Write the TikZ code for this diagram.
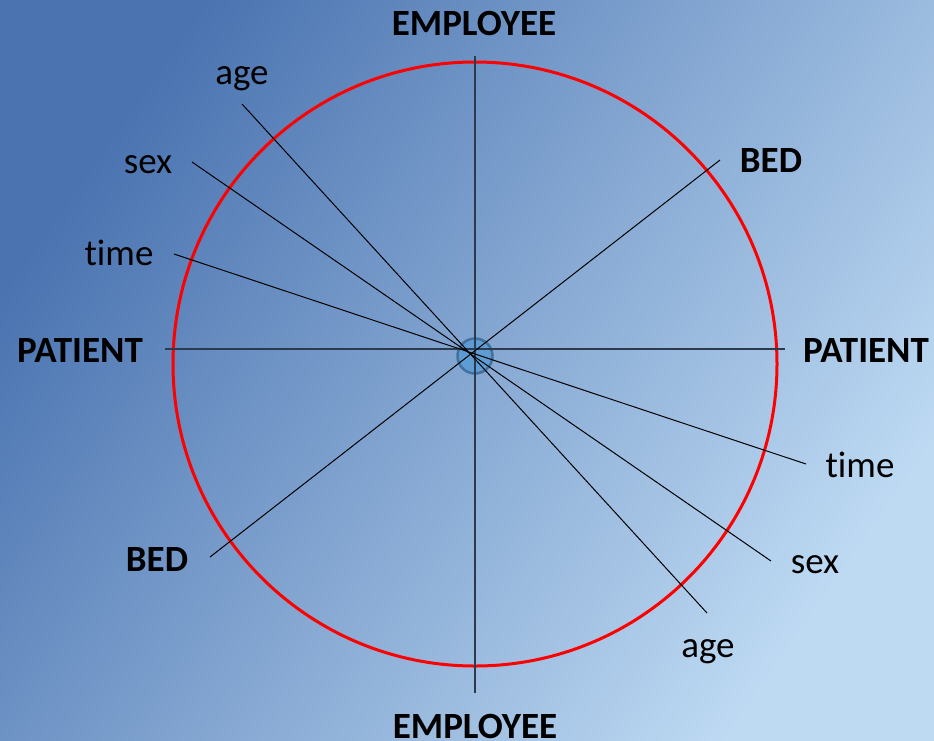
\documentclass[tikz,border=0pt]{standalone}
\usepackage{fontspec}
\setmainfont{Carlito}[Ligatures=NoCommon]
\definecolor{bgdark}{HTML}{4A73B0}
\definecolor{bglight}{HTML}{BEDAF3}
\definecolor{axisline}{HTML}{2B3A4C}
\definecolor{hubfill}{HTML}{5B9BD5}
\definecolor{hubline}{HTML}{41719C}
\tikzset{
  dimlabel/.style={font=\fontsize{37}{44}\selectfont\bfseries,anchor=base,inner sep=0pt},
  attrlabel/.style={font=\fontsize{37}{44}\selectfont,anchor=base,inner sep=0pt},
  axisline/.style={draw=axisline,line width=1.7pt},
  spoke/.style={draw=black,line width=1pt},
}
\begin{document}
\begin{tikzpicture}[x=1pt,y=-1pt]
    \shade[top color=bgdark,bottom color=bglight,shading angle=55] (0,0) rectangle (934,740);
    \useasboundingbox (0,0) rectangle (934,740);
    %% outer ring
    \draw[red,line width=3pt] (475,364) circle (302);
    %% hub
    \node[circle,draw=hubline,line width=2.5pt,fill=hubfill,fill opacity=0.9,minimum size=35pt,inner sep=0pt] (hub) at (475,356) {};
    %% spoke ends
    \coordinate (empTop) at (475,56);
    \coordinate (empBot) at (475,693);
    \coordinate (patL) at (165,349);
    \coordinate (patR) at (785,349);
    \coordinate (bedA) at (720,160);
    \coordinate (bedB) at (210,557);
    \coordinate (ageA) at (242,104);
    \coordinate (ageB) at (707,613);
    \coordinate (sexA) at (192,162);
    \coordinate (sexB) at (771,561);
    \coordinate (timeA) at (174,254);
    \coordinate (timeB) at (806,464);
    %% spokes
    \draw[axisline] (empTop) -- (empBot);
    \draw[axisline] (patL) -- (patR);
    \draw[spoke] (bedA) -- (bedB);
    \draw[spoke] (ageA) -- (ageB);
    \draw[spoke] (sexA) -- (sexB);
    \draw[spoke] (timeA) -- (timeB);
    %% dimension labels
    \node[dimlabel] (empN) at (474,35) {EMPLOYEE};
    \node[dimlabel] (empS) at (475,738) {EMPLOYEE};
    \node[dimlabel] (patW) at (80,362) {PATIENT};
    \node[dimlabel] (patE) at (866,362) {PATIENT};
    \node[dimlabel] (bedNE) at (771,172) {BED};
    \node[dimlabel] (bedSW) at (157,571) {BED};
    %% attribute labels
    \node[attrlabel] (ageNW) at (242,84) {age};
    \node[attrlabel] (sexNW) at (148,173) {sex};
    \node[attrlabel] (timeNW) at (119,265) {time};
    \node[attrlabel] (timeSE) at (860,477) {time};
    \node[attrlabel] (sexSE) at (815,573) {sex};
    \node[attrlabel] (ageSE) at (708,657) {age};
\end{tikzpicture}
\end{document}
